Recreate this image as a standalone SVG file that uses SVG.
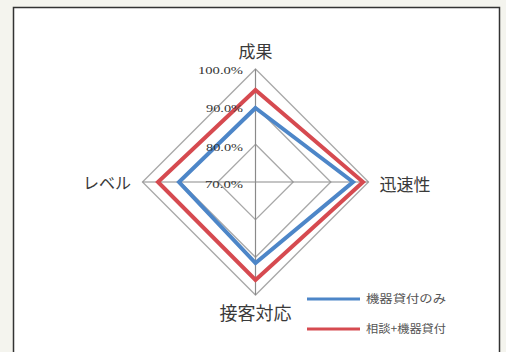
<svg xmlns="http://www.w3.org/2000/svg" width="506" height="352" viewBox="0 0 506 352">
<style>
.grid{fill:none;stroke:#a8a8a8;stroke-width:1.3}
.axis{stroke:#8a8a8a;stroke-width:1.2}
.s1{fill:none;stroke:#4d86c8;stroke-width:4;stroke-linejoin:miter}
.s2{fill:none;stroke:#d64a50;stroke-width:4;stroke-linejoin:miter}
.cat{font-family:"Noto Sans CJK JP","Noto Sans CJK SC",sans-serif;fill:#3a3a3a;text-anchor:middle}
.pct{font-family:"Liberation Serif",serif;font-size:11px;fill:#333;text-anchor:end}
.leg{font-family:"Noto Sans CJK JP",sans-serif;font-size:11px;fill:#555}
</style>
<rect x="0" y="0" width="506" height="352" fill="#f4f4ee"/>
<rect x="13.5" y="7.5" width="486" height="360" fill="#ffffff" stroke="#333" stroke-width="1.5"/>
<g id="grid">
<polygon class="grid" points="255.5,69 368.5,182 255.5,295 142.5,182"/>
<polygon class="grid" points="255.5,106.7 330.8,182 255.5,257.3 180.2,182"/>
<polygon class="grid" points="255.5,144.3 293.2,182 255.5,219.7 217.8,182"/>
<line class="axis" x1="255.5" y1="69" x2="255.5" y2="295"/>
<line class="axis" x1="142.5" y1="182" x2="368.5" y2="182"/>
</g>
<g id="series">
<polygon class="s2" points="255.5,90 363,182 255.5,280 158,182"/>
<polygon class="s1" points="255.5,108 353,182 255.5,263 179,182"/>
</g>
<g id="scale">
<text class="pct" x="243" y="74" textLength="45" lengthAdjust="spacingAndGlyphs">100.0%</text>
<text class="pct" x="243" y="112" textLength="37" lengthAdjust="spacingAndGlyphs">90.0%</text>
<text class="pct" x="243" y="151" textLength="37" lengthAdjust="spacingAndGlyphs">80.0%</text>
<text class="pct" x="243" y="188" textLength="38" lengthAdjust="spacingAndGlyphs">70.0%</text>
</g>
<g id="node-seika"><text class="cat" x="255.5" y="58" font-size="17">成果</text></g>
<g id="node-jinsoku"><text class="cat" x="405" y="191" font-size="17">迅速性</text></g>
<g id="node-level"><text class="cat" x="107" y="189" font-size="16">レベル</text></g>
<g id="node-sekkyaku"><text class="cat" x="255.5" y="320" font-size="18">接客対応</text></g>
<g id="legend">
<line x1="307" y1="299" x2="360" y2="299" stroke="#4d86c8" stroke-width="3"/>
<text class="leg" x="366" y="303" textLength="80" lengthAdjust="spacingAndGlyphs">機器貸付のみ</text>
<line x1="307" y1="329" x2="360" y2="329" stroke="#d64a50" stroke-width="3"/>
<text class="leg" x="366" y="333" textLength="80" lengthAdjust="spacingAndGlyphs">相談+機器貸付</text>
</g>
</svg>
